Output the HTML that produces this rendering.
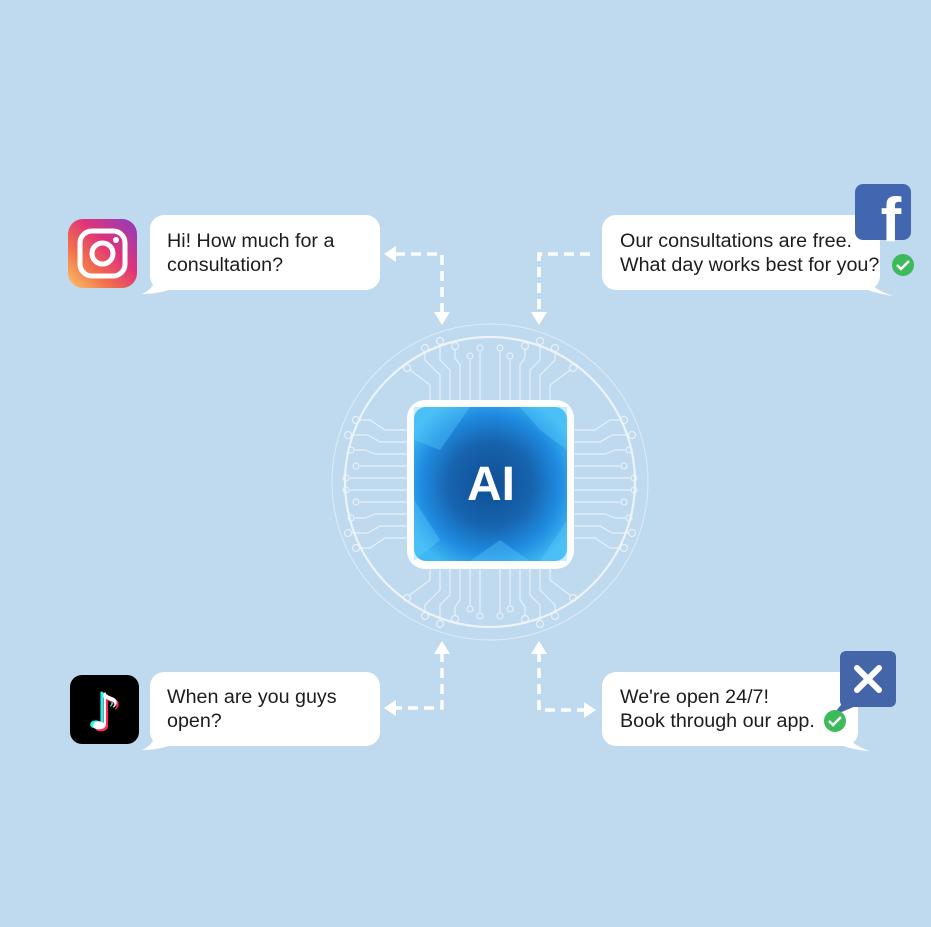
<!DOCTYPE html>
<html><head><meta charset="utf-8"><style>
html,body{margin:0;padding:0}
body{width:931px;height:927px;background:#bfd9ee;position:relative;overflow:hidden;font-family:"Liberation Sans",Arial,sans-serif}
.b{position:absolute;background:#fff;border-radius:14px;color:#1c1c1c;font-size:19.7px;line-height:24px;box-sizing:border-box}
svg{position:absolute;left:0;top:0}
</style></head><body>
<svg width="931" height="927" viewBox="0 0 931 927">
<defs>
<linearGradient id="ig" x1="0" y1="1" x2="1" y2="0">
<stop offset="0" stop-color="#fbc56b"/><stop offset="0.3" stop-color="#f2724a"/><stop offset="0.6" stop-color="#e0337a"/><stop offset="1" stop-color="#8a3ec0"/></linearGradient>
<radialGradient id="ai" cx="0.5" cy="0.5" r="0.6">
<stop offset="0" stop-color="#0f4f93"/><stop offset="0.45" stop-color="#1763ae"/><stop offset="0.75" stop-color="#1f8be0"/><stop offset="1" stop-color="#3fb8f2"/></radialGradient>
</defs>
<g fill="none" stroke="#f1f7fc" stroke-width="1.5" opacity="0.9">
<circle cx="490" cy="482" r="145" stroke-width="2.2"/>
<circle cx="490" cy="482" r="158" stroke-width="1" opacity="0.7"/>
</g>
<g fill="none" stroke="#eef5fb" stroke-width="1.2" opacity="0.85">
<path d="M440 400V375L425 360V352"/><circle cx="425" cy="348" r="3.5"/>
<path d="M450 400V370L440 360V345"/><circle cx="440" cy="341" r="3.5"/>
<path d="M460 400V365L455 358V350"/><circle cx="455" cy="346" r="3.5"/>
<path d="M470 400V360"/><circle cx="470" cy="356" r="3"/>
<path d="M480 400V352"/><circle cx="480" cy="348" r="3"/>
<path d="M500 400V352"/><circle cx="500" cy="348" r="3"/>
<path d="M510 400V360"/><circle cx="510" cy="356" r="3"/>
<path d="M520 400V365L525 358V350"/><circle cx="525" cy="346" r="3.5"/>
<path d="M530 400V370L540 360V345"/><circle cx="540" cy="341" r="3.5"/>
<path d="M540 400V375L555 360V352"/><circle cx="555" cy="348" r="3.5"/>
<path d="M430 400V385L410 370"/><circle cx="407" cy="368" r="3.5"/>
<path d="M550 400V385L570 370"/><circle cx="573" cy="368" r="3.5"/>
<path d="M440 568V590L425 605V612"/><circle cx="425" cy="616" r="3.5"/>
<path d="M450 568V595L440 605V620"/><circle cx="440" cy="624" r="3.5"/>
<path d="M460 568V600L455 607V615"/><circle cx="455" cy="619" r="3.5"/>
<path d="M470 568V605"/><circle cx="470" cy="609" r="3"/>
<path d="M480 568V612"/><circle cx="480" cy="616" r="3"/>
<path d="M500 568V612"/><circle cx="500" cy="616" r="3"/>
<path d="M510 568V605"/><circle cx="510" cy="609" r="3"/>
<path d="M520 568V600L525 607V615"/><circle cx="525" cy="619" r="3.5"/>
<path d="M530 568V595L540 605V620"/><circle cx="540" cy="624" r="3.5"/>
<path d="M540 568V590L555 605V612"/><circle cx="555" cy="616" r="3.5"/>
<path d="M430 568V580L410 595"/><circle cx="407" cy="598" r="3.5"/>
<path d="M550 568V580L570 595"/><circle cx="573" cy="598" r="3.5"/>
<path d="M407 430H385L370 420H360"/><circle cx="356" cy="420" r="3.5"/>
<path d="M407 442H380L368 435H352"/><circle cx="348" cy="435" r="3.5"/>
<path d="M407 454H375L365 450H355"/><circle cx="351" cy="450" r="3"/>
<path d="M407 466H360"/><circle cx="356" cy="466" r="3"/>
<path d="M407 478H350"/><circle cx="346" cy="478" r="3"/>
<path d="M407 490H350"/><circle cx="346" cy="490" r="3"/>
<path d="M407 502H360"/><circle cx="356" cy="502" r="3"/>
<path d="M407 514H375L365 518H355"/><circle cx="351" cy="518" r="3"/>
<path d="M407 526H380L368 533H352"/><circle cx="348" cy="533" r="3.5"/>
<path d="M407 538H385L370 548H360"/><circle cx="356" cy="548" r="3.5"/>
<path d="M574 430H595L610 420H620"/><circle cx="624" cy="420" r="3.5"/>
<path d="M574 442H600L612 435H628"/><circle cx="632" cy="435" r="3.5"/>
<path d="M574 454H605L615 450H625"/><circle cx="629" cy="450" r="3"/>
<path d="M574 466H620"/><circle cx="624" cy="466" r="3"/>
<path d="M574 478H630"/><circle cx="634" cy="478" r="3"/>
<path d="M574 490H630"/><circle cx="634" cy="490" r="3"/>
<path d="M574 502H620"/><circle cx="624" cy="502" r="3"/>
<path d="M574 514H605L615 518H625"/><circle cx="629" cy="518" r="3"/>
<path d="M574 526H600L612 533H628"/><circle cx="632" cy="533" r="3.5"/>
<path d="M574 538H595L610 548H620"/><circle cx="624" cy="548" r="3.5"/>
</g>
<rect x="407" y="400" width="167" height="169" rx="18" fill="#fbfdff"/>
<rect x="414" y="407" width="153" height="154" rx="12" fill="url(#ai)"/>
<g opacity="0.35" fill="#5fd0ff">
<polygon points="414,407 470,407 440,450 414,440"/>
<polygon points="520,407 567,407 567,450 540,430"/>
<polygon points="414,500 440,540 414,561"/>
<polygon points="540,561 567,520 567,561"/>
<polygon points="470,561 500,540 530,561"/>
</g>
<text x="491" y="500" text-anchor="middle" font-family="Liberation Sans,Arial,sans-serif" font-weight="bold" font-size="48" fill="#fff">AI</text>
<g fill="none" stroke="#fff" stroke-width="3.5" stroke-dasharray="10 6">
<path d="M395 254H442V312"/>
<path d="M590 254H539V312"/>
<path d="M442 652V708H395"/>
<path d="M539 652V710H585"/>
</g>
<g fill="#fff">
<polygon points="384,254 396,246 396,262"/>
<polygon points="434,312 450,312 442,325"/>
<polygon points="531,312 547,312 539,325"/>
<polygon points="434,654 450,654 442,641"/>
<polygon points="531,654 547,654 539,641"/>
<polygon points="384,708 396,700 396,716"/>
<polygon points="596,710 584,702 584,718"/>
</g>
<path d="M158 270 Q156 288 142 294 Q165 294 182 284Z" fill="#fff"/>
<path d="M862 270 Q870 290 894 296 Q870 293 852 283Z" fill="#fff"/>
<path d="M158 725 Q156 744 142 750 Q165 750 182 740Z" fill="#fff"/>
<path d="M840 728 Q850 745 870 751 Q848 750 830 740Z" fill="#fff"/>
<rect x="68" y="219" width="69" height="69" rx="15" fill="url(#ig)"/>
<rect x="80" y="231" width="45" height="45" rx="12" fill="none" stroke="#fff" stroke-width="5"/>
<circle cx="102.5" cy="253.5" r="10.5" fill="none" stroke="#fff" stroke-width="5"/>
<circle cx="116" cy="240" r="3" fill="#fff"/>
<rect x="70" y="675" width="69" height="69" rx="12" fill="#000"/>
<g font-family="DejaVu Sans,sans-serif" font-size="50" font-weight="bold" text-anchor="middle">
<text x="102" y="728" fill="#25f4ee">♪</text>
<text x="107" y="731" fill="#fe2c55">♪</text>
<text x="105" y="729" fill="#fff">♪</text>
</g>
</svg>
<div class="b" style="left:150px;top:215px;width:230px;height:75px;padding:14px 0 0 17px">Hi! How much for a<br>consultation?</div>
<div class="b" style="left:602px;top:215px;width:278px;height:75px;padding:14px 0 0 18px">Our consultations are free.<br>What day works best for you?</div>
<div class="b" style="left:150px;top:672px;width:230px;height:74px;padding:13px 0 0 17px">When are you guys<br>open?</div>
<div class="b" style="left:602px;top:672px;width:256px;height:74px;padding:13px 0 0 18px">We're open 24/7!<br>Book through our app.</div>
<svg width="931" height="927" viewBox="0 0 931 927" style="pointer-events:none">
<rect x="855" y="184" width="56" height="56" rx="8" fill="#4267b0"/>
<text x="891" y="241" text-anchor="middle" font-family="Liberation Sans,Arial,sans-serif" font-weight="bold" font-size="62" fill="#fff">f</text>
<circle cx="903" cy="265" r="11" fill="#3dbb5a"/>
<path d="M897 265 L901 269 L909 261" fill="none" stroke="#fff" stroke-width="2.5"/>
<rect x="840" y="651" width="56" height="56" rx="6" fill="#4466a8"/>
<path d="M845 700 L832 716 L856 706Z" fill="#4466a8"/>
<path d="M857 668 L879 690 M879 668 L857 690" stroke="#fff" stroke-width="6" stroke-linecap="round"/>
<circle cx="835" cy="721" r="11" fill="#3dbb5a"/>
<path d="M829 721 L833 725 L841 717" fill="none" stroke="#fff" stroke-width="2.5"/>
</svg>
</body></html>
